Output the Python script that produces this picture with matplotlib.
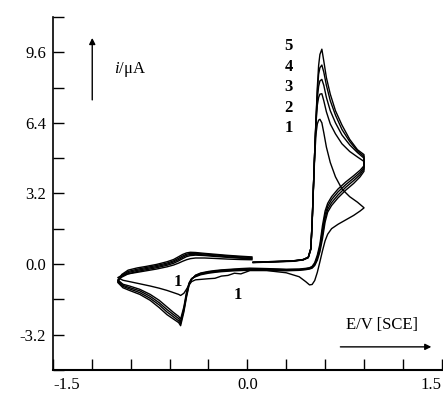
import numpy as np
import matplotlib
matplotlib.use("Agg")
import matplotlib.pyplot as plt

plt.rcParams['font.family'] = ['Liberation Serif', 'DejaVu Serif']
plt.rcParams['mathtext.fontset'] = 'custom'
plt.rcParams['mathtext.rm'] = 'Liberation Serif'
plt.rcParams['mathtext.it'] = 'Liberation Serif:italic'

# potential grid (V vs SCE), three sweep segments shared by all cycles
E_fwd = [0.045, 0.20, 0.35, 0.43, 0.47, 0.49, 0.50, 0.51, 0.52, 0.53, 0.54,
         0.55, 0.56, 0.575, 0.59, 0.61, 0.64, 0.68, 0.73, 0.79, 0.85, 0.90]
E_rev = [0.90, 0.87, 0.82, 0.76, 0.70, 0.65, 0.62, 0.60, 0.58, 0.56, 0.54,
         0.52, 0.50, 0.48, 0.45, 0.40, 0.30, 0.15, 0.02, -0.05, -0.10, -0.15,
         -0.20, -0.25, -0.30, -0.36, -0.40, -0.43, -0.45, -0.47, -0.49, -0.515,
         -0.53, -0.57, -0.62, -0.68, -0.75, -0.83, -0.91, -0.96, -1.00]
E_ret = [-1.00, -0.97, -0.92, -0.85, -0.78, -0.70, -0.62, -0.57, -0.53, -0.50,
         -0.47, -0.44, -0.40, -0.33, -0.25, -0.15, -0.05, 0.035]

# current (uA), cycles 1..5
fwd_1 = [0.06, 0.09, 0.12, 0.18, 0.28, 0.65, 1.8, 3.4, 4.9, 5.9, 6.35, 6.52, 6.56, 6.4, 5.95, 5.3, 4.6, 3.95, 3.4, 3.05, 2.8, 2.55]
fwd_2 = [0.07, 0.10, 0.13, 0.19, 0.3, 0.7, 1.9, 3.5, 5.1, 6.4, 7.2, 7.55, 7.7, 7.72, 7.4, 6.9, 6.35, 5.9, 5.45, 5.1, 4.85, 4.65]
fwd_3 = [0.07, 0.10, 0.13, 0.19, 0.3, 0.7, 1.9, 3.5, 5.1, 6.5, 7.5, 8.05, 8.3, 8.37, 8.1, 7.55, 6.95, 6.4, 5.85, 5.4, 5.05, 4.8]
fwd_4 = [0.08, 0.11, 0.14, 0.2, 0.3, 0.7, 1.9, 3.5, 5.1, 6.6, 7.8, 8.6, 8.9, 9.02, 8.7, 8.1, 7.4, 6.75, 6.1, 5.55, 5.12, 4.88]
fwd_5 = [0.08, 0.11, 0.14, 0.2, 0.3, 0.7, 1.9, 3.5, 5.1, 6.6, 8.0, 9.0, 9.5, 9.74, 9.2, 8.45, 7.7, 6.95, 6.3, 5.65, 5.18, 4.96]

rev_1 = [2.54, 2.4, 2.2, 2.0, 1.8, 1.6, 1.35, 1.05, 0.6, 0.1, -0.38, -0.75, -0.93, -0.95, -0.8, -0.58, -0.4, -0.3,
         -0.3, -0.45, -0.42, -0.52, -0.55, -0.65, -0.67, -0.7, -0.72, -0.8, -0.95, -1.15, -1.33, -1.43,
         -1.38, -1.3, -1.2, -1.1, -1.0, -0.9, -0.8, -0.74, -0.62]
rev_2 = [4.2, 3.95, 3.65, 3.35, 3.0, 2.65, 2.35, 1.9, 1.15, 0.55, 0.17, -0.07, -0.19, -0.23, -0.26, -0.29, -0.31, -0.29,
         -0.28, -0.3, -0.31, -0.33, -0.35, -0.38, -0.42, -0.49, -0.58, -0.66, -0.86, -1.3, -1.95, -2.5,
         -2.38, -2.2, -1.95, -1.65, -1.38, -1.15, -1.0, -0.92, -0.72]
rev_3 = [4.3, 4.05, 3.78, 3.48, 3.13, 2.78, 2.48, 2.07, 1.35, 0.68, 0.25, -0.03, -0.16, -0.21, -0.24, -0.27, -0.28, -0.26,
         -0.25, -0.27, -0.28, -0.3, -0.32, -0.35, -0.39, -0.46, -0.55, -0.67, -0.9, -1.38, -2.03, -2.62,
         -2.48, -2.3, -2.07, -1.76, -1.47, -1.22, -1.07, -0.97, -0.76]
rev_4 = [4.38, 4.15, 3.89, 3.6, 3.27, 2.92, 2.62, 2.24, 1.55, 0.78, 0.32, 0.01, -0.14, -0.19, -0.22, -0.25, -0.26, -0.23,
         -0.22, -0.24, -0.25, -0.27, -0.29, -0.32, -0.36, -0.43, -0.52, -0.69, -0.93, -1.45, -2.1, -2.7,
         -2.58, -2.4, -2.18, -1.86, -1.56, -1.3, -1.13, -1.02, -0.8]
rev_5 = [4.45, 4.25, 4.0, 3.72, 3.4, 3.05, 2.75, 2.4, 1.75, 0.9, 0.4, 0.06, -0.11, -0.17, -0.2, -0.23, -0.24, -0.21,
         -0.19, -0.21, -0.23, -0.25, -0.27, -0.3, -0.34, -0.41, -0.51, -0.7, -0.97, -1.52, -2.18, -2.8,
         -2.66, -2.5, -2.3, -1.98, -1.65, -1.38, -1.2, -1.08, -0.84]

ret_1 = [-0.62, -0.52, -0.45, -0.38, -0.31, -0.23, -0.13, -0.05, 0.04, 0.12, 0.19, 0.24, 0.27, 0.27, 0.25, 0.22, 0.2, 0.19]
ret_2 = [-0.72, -0.6, -0.45, -0.34, -0.26, -0.17, -0.06, 0.03, 0.14, 0.24, 0.33, 0.38, 0.4, 0.38, 0.34, 0.3, 0.26, 0.23]
ret_3 = [-0.76, -0.56, -0.39, -0.29, -0.21, -0.12, -0.01, 0.09, 0.2, 0.3, 0.39, 0.43, 0.44, 0.41, 0.37, 0.32, 0.28, 0.25]
ret_4 = [-0.8, -0.52, -0.34, -0.24, -0.16, -0.07, 0.04, 0.14, 0.26, 0.36, 0.44, 0.48, 0.48, 0.45, 0.41, 0.36, 0.32, 0.29]
ret_5 = [-0.84, -0.48, -0.28, -0.18, -0.11, -0.02, 0.1, 0.2, 0.33, 0.43, 0.5, 0.53, 0.52, 0.48, 0.44, 0.39, 0.35, 0.32]

x_ticks = [-1.5, -1.2, -0.9, -0.6, -0.3, 0.0, 0.3, 0.6, 0.9, 1.2, 1.5]
x_labels = ['-1.5', '', '', '', '', '0.0', '', '', '', '', '1.5']
y_ticks = [-4.8, -3.2, -1.6, 0.0, 1.6, 3.2, 4.8, 6.4, 8.0, 9.6, 11.2]
y_labels = ['', '-3.2', '', '0.0', '', '3.2', '', '6.4', '', '9.6', '']
cycle_labels = ['5', '4', '3', '2', '1']

fig = plt.figure(figsize=(4.43, 3.95), dpi=100)
ax = fig.add_axes([0.1196, 0.0638, 0.8775, 0.8932])

cycles = [(fwd_1, rev_1, ret_1), (fwd_2, rev_2, ret_2), (fwd_3, rev_3, ret_3),
          (fwd_4, rev_4, ret_4), (fwd_5, rev_5, ret_5)]
for f, r, b in cycles:
    ax.plot(E_fwd + E_rev + E_ret, f + r + b, color='black', lw=1.0)

ax.set_xlim(-1.5, 1.5)
ax.set_ylim(-4.8, 11.2)
ax.set_xticks(x_ticks)
ax.set_xticklabels(x_labels)
ax.set_yticks(y_ticks)
ax.set_yticklabels(y_labels)
xl = ax.get_xticklabels()
xl[0].set_ha('left')
xl[-1].set_ha('right')
ax.tick_params(direction='in', length=8, width=1, labelsize=12)
ax.tick_params(axis='x', pad=5)
ax.tick_params(axis='y', pad=5)
for s in ['top', 'right']:
    ax.spines[s].set_visible(False)
ax.spines['left'].set_linewidth(1.2)
ax.spines['bottom'].set_linewidth(1.5)

# axis captions and arrows
ax.text(-1.03, 8.8, r'$i$/μA', fontsize=12, va='center', ha='left')
ax.annotate('', xy=(-1.197, 10.25), xytext=(-1.197, 7.44),
            arrowprops=dict(arrowstyle='-|>', color='black', lw=1,
                            mutation_scale=9, shrinkA=0, shrinkB=0))
ax.text(1.038, -2.77, 'E/V [SCE]', fontsize=12, va='center', ha='center')
ax.annotate('', xy=(1.42, -3.76), xytext=(0.718, -3.76),
            arrowprops=dict(arrowstyle='-|>', color='black', lw=1,
                            mutation_scale=9, shrinkA=0, shrinkB=0))

label_y = [9.89, 8.93, 8.03, 7.07, 6.17]
for lab, yy in zip(cycle_labels, label_y):
    ax.text(0.317, yy, lab, fontsize=12, fontweight='bold', ha='center', va='center')
ax.text(-0.54, -0.82, '1', fontsize=12, fontweight='bold', ha='center', va='center')
ax.text(-0.077, -1.41, '1', fontsize=12, fontweight='bold', ha='center', va='center')

fig.savefig('out.png', dpi=100)
